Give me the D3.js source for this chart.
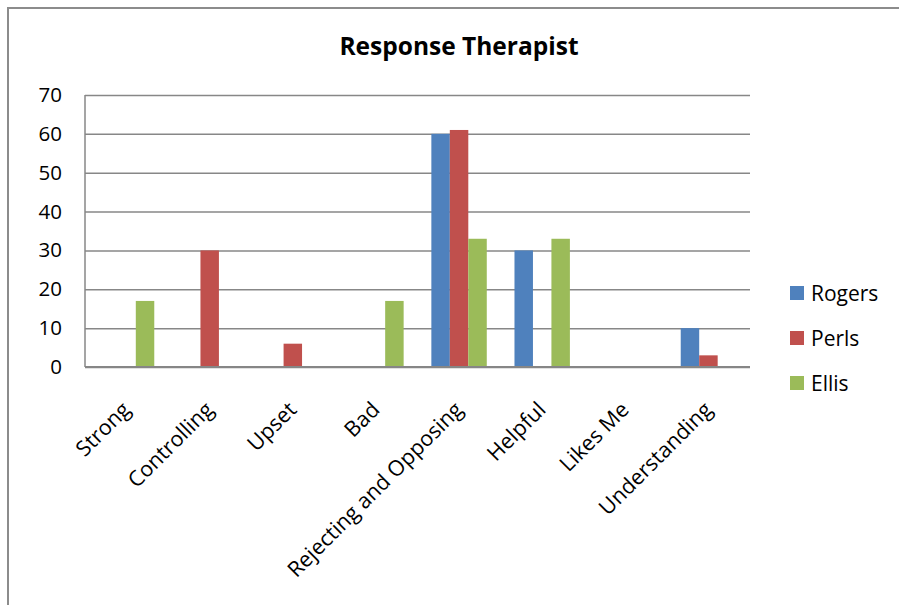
<!DOCTYPE html>
<html><head><meta charset="utf-8">
<script src="https://cdn.jsdelivr.net/npm/d3@7"></script>
<style>body{margin:0;background:#fff}svg{display:block}text{font-family:"Open Sans",sans-serif}</style>
</head><body><svg id="c" width="899" height="605"></svg>
<script>
const categories = ["Strong","Controlling","Upset","Bad","Rejecting and Opposing","Helpful","Likes Me","Understanding"];
const seriesNames = ["Rogers","Perls","Ellis"];
const rogers = [0,0,0,0,60,30,0,10];
const perls  = [0,30,6,0,61,0,0,3];
const ellis  = [17,0,0,17,33,33,0,0];
const yTicks = [0,10,20,30,40,50,60,70];
const colors = ["#4F81BD","#C0504D","#9BBB59"];
const title = "Response Therapist";

const svg = d3.select("#c");
const m = {l:85, r:750, t:95, b:367};
svg.append("rect").attr("x",8).attr("y",8).attr("width",1000).attr("height",1000)
  .attr("fill","none").attr("stroke","#8c8c8c").attr("stroke-width",2);

const x = d3.scaleBand().domain(categories).range([m.l,m.r]).paddingInner(1.5/4.5).paddingOuter(0.75/4.5);
const xs = d3.scaleBand().domain(seriesNames).range([0,x.bandwidth()]);
const y = d3.scaleLinear().domain([0,70]).range([m.b,m.t]);

const g = svg.append("g").attr("transform",`translate(${m.l},0)`);
g.call(d3.axisLeft(y).tickValues(yTicks).tickSize(-(m.r-m.l)).tickFormat(""))
  .call(s=>s.select(".domain").remove())
  .call(s=>s.selectAll("line").attr("stroke","#878787").attr("stroke-width",1.5));
svg.append("line").attr("x1",m.l).attr("x2",m.l).attr("y1",m.t).attr("y2",m.b).attr("stroke","#878787").attr("stroke-width",1.5);

const data = [rogers,perls,ellis];
data.forEach((arr,si)=>{
  svg.append("g").selectAll("rect").data(arr).join("rect")
    .attr("x",(d,i)=>x(categories[i])+xs(seriesNames[si]))
    .attr("width",xs.bandwidth())
    .attr("y",d=>y(d)).attr("height",d=>y(0)-y(d))
    .attr("fill",colors[si]);
});
svg.append("line").attr("x1",m.l).attr("x2",m.r).attr("y1",m.b).attr("y2",m.b).attr("stroke","#868686").attr("stroke-width",2);

const ya = svg.append("g").attr("transform",`translate(${m.l},0)`)
  .call(d3.axisLeft(y).tickValues(yTicks).tickSize(0).tickPadding(23));
ya.select(".domain").remove();
ya.selectAll("text").attr("font-family","Open Sans").attr("font-size",20.5).attr("fill","#000");

svg.append("g").selectAll("text").data(categories).join("text")
  .attr("transform",d=>`translate(${x(d)+x.bandwidth()/2+5},411) rotate(-45)`)
  .attr("text-anchor","end").attr("font-size",21.5).attr("fill","#000").text(d=>d);

svg.append("text").attr("x",459).attr("y",55).attr("text-anchor","middle")
  .attr("font-size",24.5).attr("font-weight","bold").attr("fill","#000").text(title);

const lg = svg.append("g").selectAll("g").data(seriesNames).join("g")
  .attr("transform",(d,i)=>`translate(790,${293+i*45})`);
lg.append("rect").attr("x",0).attr("y",-7).attr("width",14).attr("height",14).attr("fill",(d,i)=>colors[i]);
lg.append("text").attr("x",21).attr("y",7.5).attr("font-size",21).attr("fill","#000").text(d=>d);
</script></body></html>
